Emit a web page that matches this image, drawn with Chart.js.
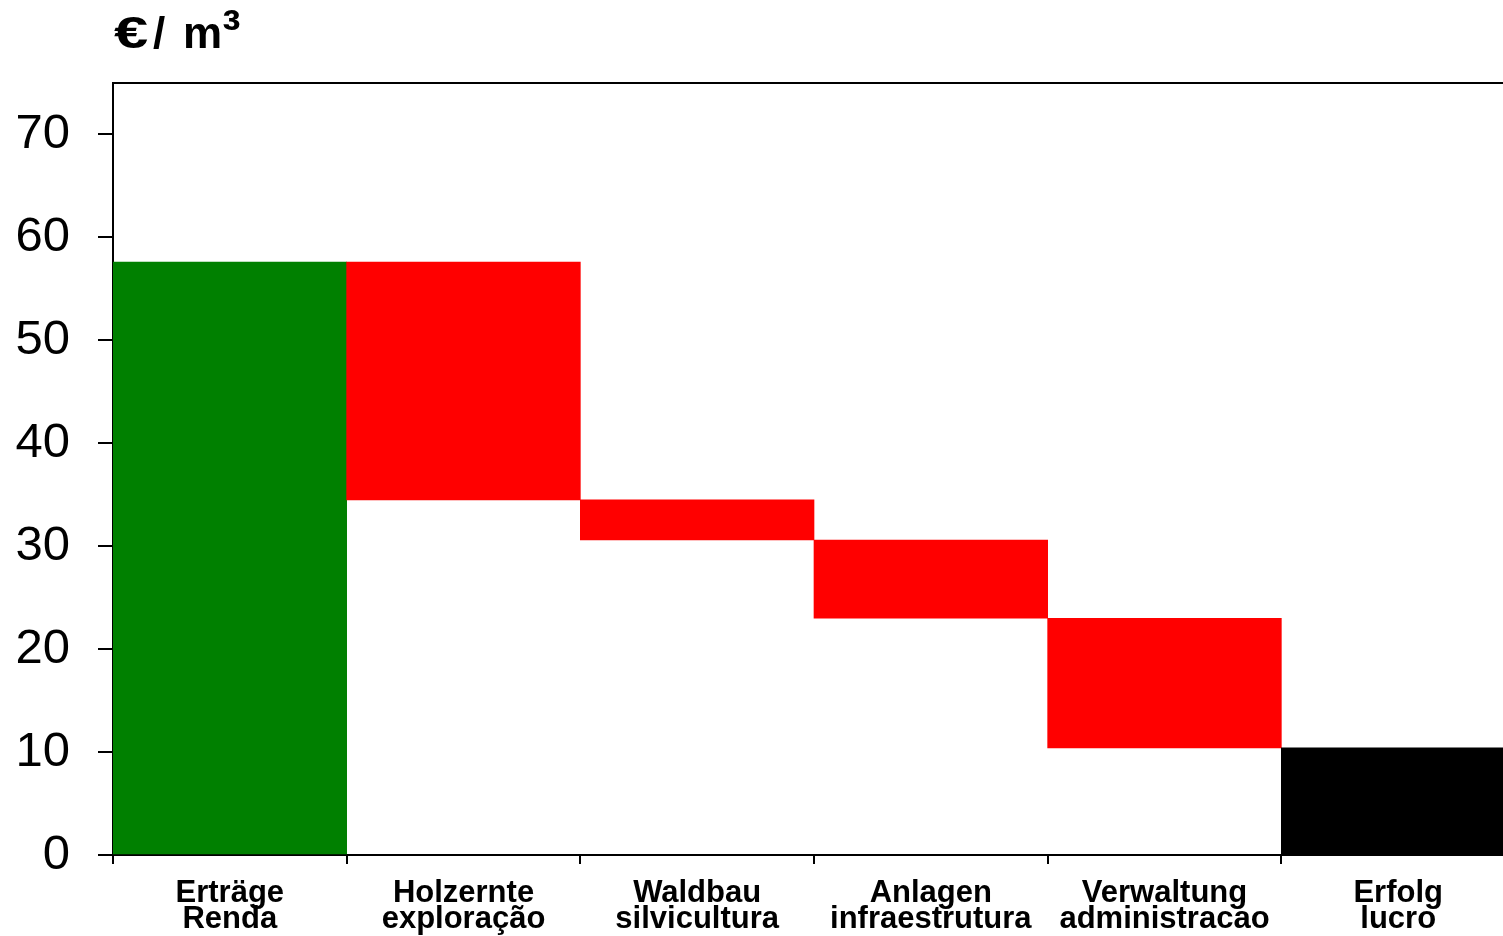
<!DOCTYPE html>
<html>
<head>
<meta charset="utf-8">
<script src="https://cdn.jsdelivr.net/npm/chart.js@4/dist/chart.umd.min.js"></script>
<style>
  html, body { margin: 0; padding: 0; background: #fff; overflow: hidden; width: 1503px; height: 936px; }
  #wrap { position: absolute; left: 0; top: 0; width: 1515px; height: 936px; }
  .unit { position: absolute; top: 11px; font: bold 44px/44px "Liberation Sans", Arial, sans-serif; color: #000; white-space: nowrap; }
  #euro { left: 114px; transform: scaleX(1.4); transform-origin: left top; }
  #slash { left: 153px; }
  #m3 { left: 183px; }
  #m3 span { font-size: 1.25em; line-height: 0; }
</style>
</head>
<body>
<div id="wrap"><canvas id="chart" width="1515" height="936"></canvas></div>
<div class="unit" id="euro">€</div><div class="unit" id="slash">/</div><div class="unit" id="m3">m<span>³</span></div>
<script>
// Data
const categories = [
    ['Erträge', 'Renda'],
    ['Holzernte', 'exploração'],
    ['Waldbau', 'silvicultura'],
    ['Anlagen', 'infraestrutura'],
    ['Verwaltung', 'administracao'],
    ['Erfolg', 'lucro']
];
const barLow = [0, 34.5, 30.6, 23.0, 10.4, 0];
const barHigh = [57.6, 57.6, 34.5, 30.6, 23.0, 10.4];
const barColors = ['#008000', '#ff0000', '#ff0000', '#ff0000', '#ff0000', '#000000'];
const yTicks = [0, 10, 20, 30, 40, 50, 60, 70];

const ctx = document.getElementById('chart').getContext('2d');

new Chart(ctx, {
    type: 'bar',
    data: {
        labels: categories,
        datasets: [{
            data: barLow.map((low, i) => [low, barHigh[i]]),
            backgroundColor: barColors,
            borderWidth: 0,
            categoryPercentage: 1,
            barPercentage: 1
        }]
    },
    options: {
        responsive: false,
        animation: false,
        layout: { padding: { top: 83, left: 0, right: 0, bottom: 0 } },
        plugins: {
            legend: { display: false },
            tooltip: { enabled: false }
        },
        scales: {
            x: {
                position: 'bottom',
                offset: true,
                grid: {
                    offset: true,
                    drawOnChartArea: false,
                    drawTicks: true,
                    tickLength: 9,
                    color: '#000',
                    lineWidth: 2
                },
                border: { display: true, color: '#000', width: 2 },
                ticks: {
                    color: '#000',
                    padding: 16,
                    maxRotation: 0,
                    autoSkip: false,
                    font: { family: '"Liberation Sans", Arial, sans-serif', size: 31, weight: 'bold', lineHeight: 0.85 }
                },
                afterFit: (scale) => { scale.height = 81; }
            },
            x2: {
                type: 'category',
                position: 'top',
                labels: categories,
                grid: { display: false },
                ticks: { display: false },
                border: { display: true, color: '#000', width: 2 },
                afterFit: (scale) => { scale.height = 0; }
            },
            y: {
                min: 0,
                max: 75,
                afterBuildTicks: (scale) => { scale.ticks = yTicks.map(v => ({ value: v })); },
                grid: {
                    drawOnChartArea: false,
                    drawTicks: true,
                    tickLength: 15,
                    color: '#000',
                    lineWidth: 2
                },
                border: { display: true, color: '#000', width: 2 },
                ticks: {
                    color: '#000',
                    padding: 28,
                    font: { family: '"Liberation Sans", Arial, sans-serif', size: 49 }
                },
                afterFit: (scale) => { scale.width = 113; }
            }
        }
    }
});
</script>
</body>
</html>
